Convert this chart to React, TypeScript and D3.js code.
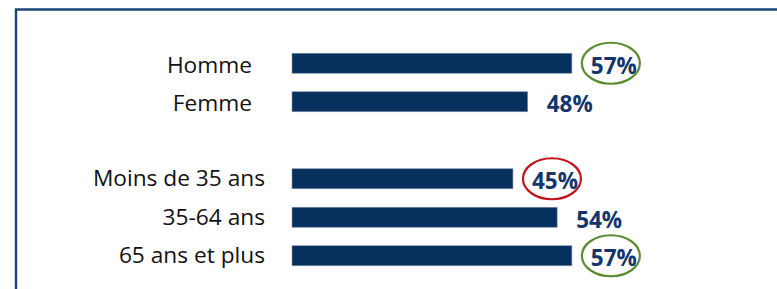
import React from "react";
import * as d3 from "d3";

// data
const categories = ["Homme", "Femme", "Moins de 35 ans", "35-64 ans", "65 ans et plus"];
const groups = ["sexe", "sexe", "age", "age", "age"];
const values = [57, 48, 45, 54, 57];
const highlights = ["best", "", "worst", "", "best"];

const W = 777;
const H = 289;
const BAR = "#07305f";
const TEXT_BLUE = "#12366b";
const BORDER = "#1b4677";
const RING = { best: "#5b8c33", worst: "#c0141c" } as Record<string, string>;
const labelRight = { sexe: 252, age: 265 } as Record<string, number>;
const labelDy = { sexe: 9.5, age: 7.5 } as Record<string, number>;

const App = () => {
  const ref = React.useRef<SVGSVGElement>(null);

  React.useEffect(() => {
    const svg = d3.select(ref.current);
    svg.selectAll("*").remove();

    // a blank row between the two groups
    const rows: string[] = [];
    categories.forEach((c, i) => {
      if (i > 0 && groups[i] !== groups[i - 1]) rows.push("__gap");
      rows.push(c);
    });

    const x = d3.scaleLinear().domain([0, 100]).range([292, 783]);
    const y = d3.scaleBand().domain(rows).range([44, 275]).paddingInner(0.48).paddingOuter(0.24);
    const mid = (c: string) => (y(c) as number) + y.bandwidth() / 2;

    // frame
    svg.append("path")
      .attr("d", `M16,${H} L16,9.5 L${W},9.5`)
      .attr("fill", "none")
      .attr("stroke", BORDER)
      .attr("stroke-width", 2.4);

    const g = svg.append("g");

    g.selectAll(".bar")
      .data(categories)
      .join("rect")
      .attr("class", "bar")
      .attr("x", x(0))
      .attr("y", (c) => y(c) as number)
      .attr("width", (c, i) => x(values[i]) - x(0))
      .attr("height", y.bandwidth())
      .attr("fill", BAR)
      .attr("stroke", "#7f93ad")
      .attr("stroke-width", 0.6);

    g.selectAll(".cat")
      .data(categories)
      .join("text")
      .attr("class", "cat")
      .attr("x", (c, i) => labelRight[groups[i]])
      .attr("y", (c, i) => mid(c) + labelDy[groups[i]])
      .attr("text-anchor", "end")
      .attr("font-family", "'Open Sans', sans-serif")
      .attr("font-size", "22.7px")
      .attr("fill", "#111")
      .text((c) => c);

    g.selectAll(".val")
      .data(categories)
      .join("text")
      .attr("class", "val")
      .attr("x", (c, i) => x(values[i]) + 19)
      .attr("y", (c) => mid(c) + 10.3)
      .attr("font-family", "'Open Sans', sans-serif")
      .attr("font-weight", "bold")
      .attr("font-size", "22.5px")
      .attr("fill", TEXT_BLUE)
      .text((c, i) => values[i] + "%");

    g.selectAll(".ring")
      .data(categories.filter((c, i) => highlights[i]))
      .join("ellipse")
      .attr("class", "ring")
      .attr("cx", (c) => x(values[categories.indexOf(c)]) + 39)
      .attr("cy", (c) => mid(c))
      .attr("rx", 29)
      .attr("ry", 20.5)
      .attr("fill", "none")
      .attr("stroke", (c) => RING[highlights[categories.indexOf(c)]])
      .attr("stroke-width", 2.2);
  }, []);

  return (
    <svg
      ref={ref}
      width={W}
      height={H}
      style={{ position: "absolute", left: 0, top: 0, background: "#fff" }}
    ></svg>
  );
};

export default App;
